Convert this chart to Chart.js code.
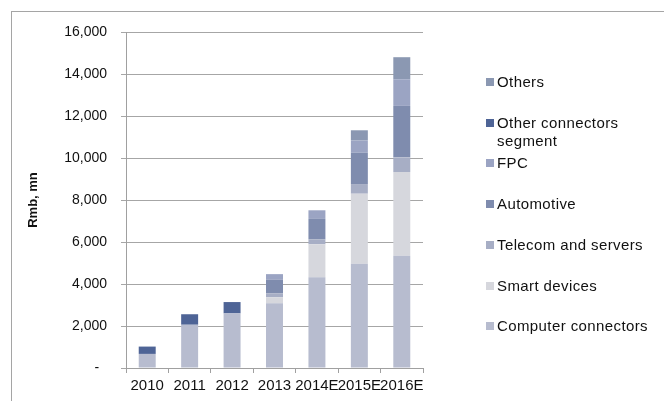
<!DOCTYPE html>
<html>
<head>
<meta charset="utf-8">
<script src="https://cdn.jsdelivr.net/npm/chart.js@4/dist/chart.umd.min.js"></script>
<style>
  html, body { margin: 0; padding: 0; background: #fff; }
  #wrap { position: relative; width: 664px; height: 401px; overflow: hidden; font-family: 'Liberation Sans', Arial, sans-serif; }
  #frame { position: absolute; left: 11px; top: 11px; width: 700px; height: 400px; border-left: 1px solid #a5a5a5; border-top: 1px solid #a5a5a5; }
  #chartBox { position: absolute; left: 0; top: 0; width: 664px; height: 401px; }
  #legend { position: absolute; left: 486px; top: 0; width: 178px; height: 401px; }
  .item { position: absolute; left: 0; width: 176px; font-size: 15px; line-height: 18px; color: #111; letter-spacing: 0.4px; }
  .item .box { position: absolute; left: 0; top: 5px; width: 8px; height: 8px; }
  .item .txt { margin-left: 11px; width: 160px; }
</style>
</head>
<body>
<div id="wrap">
  <div id="frame"></div>
  <div id="chartBox"><canvas id="segmentChart" width="664" height="401"></canvas></div>
  <div id="legend"></div>
</div>
<script>
// Categories and tick labels
const years = ['2010', '2011', '2012', '2013', '2014E', '2015E', '2016E'];
const yTickLabels = ['-  ', '2,000', '4,000', '6,000', '8,000', '10,000', '12,000', '14,000', '16,000'];

// Segment revenue, Rmb mn
const computerConnectors = [670, 2060, 2600, 3080, 4320, 4960, 5340];
const smartDevices = [0, 0, 0, 290, 1570, 3340, 3990];
const telecomServers = [0, 0, 0, 190, 240, 460, 700];
const automotive = [0, 0, 0, 640, 970, 1490, 2450];
const fpc = [0, 0, 0, 270, 410, 590, 1270];
const otherConnectors = [350, 500, 540, 0, 0, 0, 0];
const others = [0, 0, 0, 0, 0, 480, 1050];

const series = [
    { label: 'Computer connectors', data: computerConnectors, color: '#b7bccf' },
    { label: 'Smart devices', data: smartDevices, color: '#d6d7dd' },
    { label: 'Telecom and servers', data: telecomServers, color: '#a7aec5' },
    { label: 'Automotive', data: automotive, color: '#7f8cae' },
    { label: 'FPC', data: fpc, color: '#9ba4c3' },
    { label: 'Other connectors segment', data: otherConnectors, color: '#4e6496' },
    { label: 'Others', data: others, color: '#8b98b2' }
];

const fontFamily = "'Liberation Sans', Arial, sans-serif";

const ctx = document.getElementById('segmentChart').getContext('2d');
const segmentChart = new Chart(ctx, {
    type: 'bar',
    data: {
        labels: years,
        datasets: series.map(s => ({
            label: s.label,
            data: s.data,
            backgroundColor: s.color,
            borderWidth: 0,
            barPercentage: 0.4,
            categoryPercentage: 1.0
        }))
    },
    options: {
        responsive: false,
        animation: false,
        layout: { padding: { left: 0, top: 32, right: 241, bottom: 0 } },
        plugins: {
            legend: { display: false },
            tooltip: { enabled: false }
        },
        scales: {
            x: {
                stacked: true,
                grid: { drawOnChartArea: false, drawTicks: true, tickLength: 5, color: '#a0a0a0', lineWidth: 1 },
                border: { color: '#a0a0a0', width: 1 },
                ticks: { font: { family: fontFamily, size: 15 }, color: '#111', padding: 4, maxRotation: 0, autoSkip: false },
                afterFit: scale => { scale.height = 33; }
            },
            y: {
                stacked: true,
                min: 0,
                max: 16000,
                grid: { color: '#a6a6a6', lineWidth: 1, tickLength: 5 },
                border: { color: '#a0a0a0', width: 1 },
                ticks: {
                    stepSize: 2000,
                    font: { family: fontFamily, size: 14 },
                    color: '#111',
                    padding: 14,
                    callback: (value, index) => yTickLabels[index]
                },
                title: {
                    display: true,
                    text: 'Rmb, mn',
                    font: { family: fontFamily, size: 13, weight: 'bold' },
                    color: '#111',
                    padding: { top: 26, bottom: 0 }
                },
                afterFit: scale => { scale.width = 126; }
            }
        }
    }
});

// Legend on the right, last segment listed first
const legendEl = document.getElementById('legend');
series.slice().reverse().forEach((s, i) => {
    const item = document.createElement('div');
    item.className = 'item';
    item.style.top = (82 + i * 40.7 - 9) + 'px';
    item.innerHTML = '<span class="box" style="background:' + s.color + '"></span><div class="txt">' + s.label + '</div>';
    legendEl.appendChild(item);
});
</script>
</body>
</html>
